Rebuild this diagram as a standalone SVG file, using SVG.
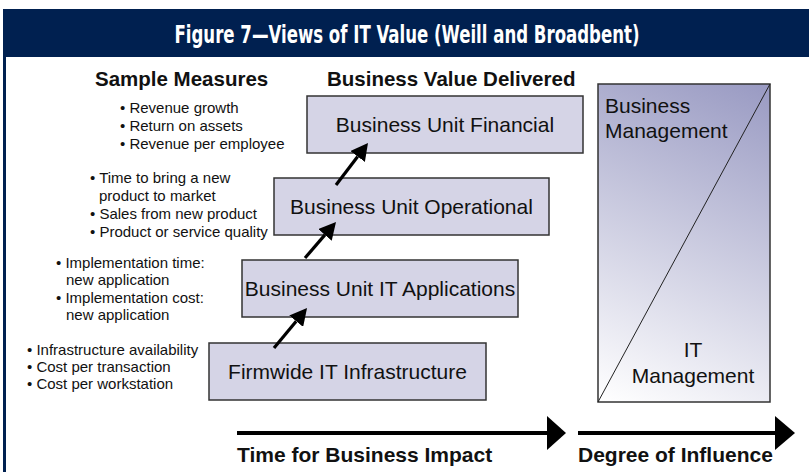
<svg xmlns="http://www.w3.org/2000/svg" width="809" height="472" viewBox="0 0 809 472">
<defs>
<style>
.t{font-family:"Liberation Sans",Arial,sans-serif;fill:#111}
.b{font-size:15px}
.h{font-size:20.5px;font-weight:bold}
.box{fill:#d5d4e6;stroke:#333;stroke-width:1.5}
.lbl{font-size:21px;text-anchor:middle}
.conn{stroke:#000;stroke-width:3.2;fill:none}
</style>
<marker id="ah" markerUnits="userSpaceOnUse" markerWidth="18" markerHeight="18" refX="0" refY="9" orient="auto" viewBox="0 0 18 18">
<path d="M0,0 L17,9 L0,18 z" fill="#000"/>
</marker>
<linearGradient id="g" gradientUnits="userSpaceOnUse" x1="620" y1="410" x2="760" y2="84">
<stop offset="0" stop-color="#ffffff"/>
<stop offset="1" stop-color="#9a9bc3"/>
</linearGradient>
</defs>
<rect x="0" y="0" width="809" height="472" fill="#fff"/>
<g id="frame">
<rect x="3" y="9" width="806" height="48" fill="#002050"/>
<rect x="3" y="57" width="3" height="415" fill="#002050"/>
<text x="407" y="43" text-anchor="middle" textLength="465" lengthAdjust="spacingAndGlyphs" style="font-family:'Liberation Sans Narrow','DejaVu Sans Condensed','Liberation Sans',sans-serif;font-weight:bold;font-size:25px;fill:#fff">Figure 7—Views of IT Value (Weill and Broadbent)</text>
</g>
<g id="headings">
<text class="t h" x="95" y="86">Sample Measures</text>
<text class="t h" x="327" y="86">Business Value Delivered</text>
</g>
<g id="measures">
<text class="t b" x="120" y="113">• Revenue growth</text>
<text class="t b" x="120" y="131">• Return on assets</text>
<text class="t b" x="120" y="149">• Revenue per employee</text>
<text class="t b" x="90" y="183">• Time to bring a new</text>
<text class="t b" x="99" y="201">product to market</text>
<text class="t b" x="90" y="219">• Sales from new product</text>
<text class="t b" x="90" y="237">• Product or service quality</text>
<text class="t b" x="56" y="268">• Implementation time:</text>
<text class="t b" x="66" y="285">new application</text>
<text class="t b" x="56" y="303">• Implementation cost:</text>
<text class="t b" x="66" y="320">new application</text>
<text class="t b" x="27" y="355">• Infrastructure availability</text>
<text class="t b" x="27" y="372">• Cost per transaction</text>
<text class="t b" x="27" y="389">• Cost per workstation</text>
</g>
<g id="bu-financial">
<rect class="box" x="307" y="96" width="276" height="57"/>
<text class="t lbl" x="445" y="132">Business Unit Financial</text>
</g>
<g id="bu-operational">
<rect class="box" x="274" y="178" width="275" height="57"/>
<text class="t lbl" x="411.5" y="214">Business Unit Operational</text>
</g>
<g id="bu-it-applications">
<rect class="box" x="242" y="260" width="276" height="57"/>
<text class="t lbl" x="380" y="296">Business Unit IT Applications</text>
</g>
<g id="firmwide-infrastructure">
<rect class="box" x="209" y="343" width="277" height="57"/>
<text class="t lbl" x="347.5" y="379">Firmwide IT Infrastructure</text>
</g>
<g id="influence">
<rect x="598" y="84" width="172" height="318" fill="url(#g)" stroke="#333" stroke-width="1.5"/>
<line x1="598" y1="402" x2="770" y2="84" stroke="#222" stroke-width="1"/>
<text class="t" x="605" y="113" style="font-size:21px">Business</text>
<text class="t" x="605" y="138" style="font-size:21px">Management</text>
<text class="t" x="693" y="357" style="font-size:21px;text-anchor:middle">IT</text>
<text class="t" x="693" y="383" style="font-size:21px;text-anchor:middle">Management</text>
</g>
<g id="connectors">
<line class="conn" x1="274" y1="348" x2="296.2" y2="321.2" marker-end="url(#ah)"/>
<line class="conn" x1="305" y1="258" x2="324.9" y2="234.9" marker-end="url(#ah)"/>
<line class="conn" x1="336" y1="185" x2="357.7" y2="156.5" marker-end="url(#ah)"/>
</g>
<g id="axes">
<line x1="237" y1="433" x2="549" y2="433" stroke="#000" stroke-width="4"/>
<polygon points="547,416 566,433 547,450" fill="#000"/>
<line x1="578" y1="433" x2="777" y2="433" stroke="#000" stroke-width="4"/>
<polygon points="775,416 795,433 775,450" fill="#000"/>
<text class="t" x="237" y="462" style="font-size:21px;font-weight:bold">Time for Business Impact</text>
<text class="t" x="578" y="462" style="font-size:21px;font-weight:bold">Degree of Influence</text>
</g>
</svg>
